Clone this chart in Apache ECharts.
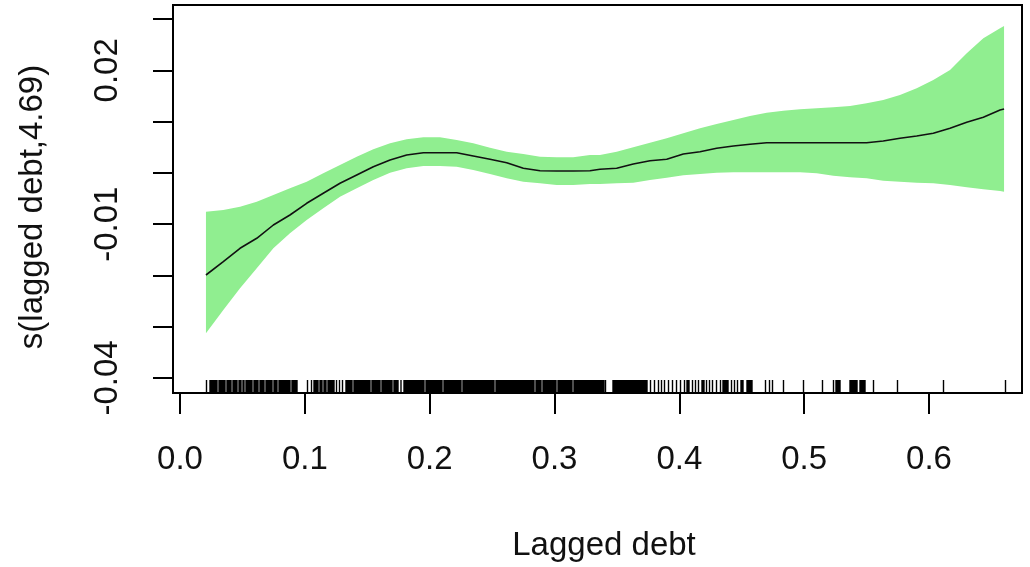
<!DOCTYPE html>
<html>
<head>
<meta charset="utf-8">
<script src="https://cdn.jsdelivr.net/npm/echarts@6/dist/echarts.min.js"></script>
<style>
html,body{margin:0;padding:0;background:#fff;}
#chart{width:1030px;height:567px;}
</style>
</head>
<body>
<div id="chart"></div>
<script>
// ---- data ----
const lineX = [0.0208,0.0347,0.0481,0.0615,0.0748,0.0881,0.1015,0.1148,0.1282,0.1416,0.1549,0.1683,0.1816,0.1950,0.2083,0.2217,0.2350,0.2484,0.2618,0.2751,0.2885,0.3018,0.3151,0.3285,0.3365,0.3499,0.3632,0.3766,0.3900,0.4033,0.4167,0.4300,0.4434,0.4567,0.4701,0.4834,0.4968,0.5102,0.5235,0.5369,0.5502,0.5635,0.5769,0.5903,0.6036,0.6170,0.6304,0.6437,0.6571,0.6603];
const fitValues = [-0.01991,-0.01731,-0.01470,-0.01275,-0.01016,-0.00821,-0.00593,-0.00398,-0.00203,-0.00041,0.00121,0.00252,0.00349,0.00394,0.00394,0.00394,0.00330,0.00265,0.00199,0.00090,0.00043,0.00037,0.00037,0.00043,0.00070,0.00090,0.00174,0.00238,0.00265,0.00369,0.00413,0.00480,0.00525,0.00558,0.00589,0.00589,0.00589,0.00589,0.00589,0.00589,0.00589,0.00622,0.00675,0.00720,0.00772,0.00870,0.00987,0.01084,0.01226,0.01246];
const upperValues = [-0.00757,-0.00723,-0.00659,-0.00562,-0.00431,-0.00300,-0.00172,-0.00008,0.00154,0.00316,0.00460,0.00577,0.00655,0.00694,0.00694,0.00641,0.00577,0.00491,0.00413,0.00369,0.00316,0.00304,0.00304,0.00349,0.00349,0.00413,0.00499,0.00589,0.00675,0.00772,0.00870,0.00953,0.01031,0.01109,0.01174,0.01213,0.01240,0.01260,0.01279,0.01304,0.01357,0.01421,0.01519,0.01650,0.01811,0.02006,0.02332,0.02624,0.02820,0.02864];
const lowerValues = [-0.03128,-0.02673,-0.02250,-0.01860,-0.01470,-0.01178,-0.00918,-0.00690,-0.00464,-0.00300,-0.00138,0.00004,0.00090,0.00135,0.00135,0.00121,0.00057,-0.00021,-0.00105,-0.00172,-0.00203,-0.00236,-0.00236,-0.00216,-0.00216,-0.00203,-0.00191,-0.00138,-0.00094,-0.00047,-0.00021,0.00004,0.00012,0.00012,0.00012,0.00012,0.00012,-0.00008,-0.00055,-0.00086,-0.00105,-0.00152,-0.00172,-0.00191,-0.00203,-0.00236,-0.00281,-0.00320,-0.00353,-0.00367];
// rug: single observations and dense runs [from, to]
const rugTicks = [0.02123,0.10216,0.10537,0.1254,0.1278,0.13021,0.17708,0.34095,0.377,0.3802,0.38341,0.38582,0.38822,0.39143,0.39463,0.39784,0.40104,0.40425,0.41066,0.41306,0.41546,0.42188,0.42428,0.42668,0.42989,0.43309,0.44191,0.44431,0.44671,0.46915,0.47236,0.47476,0.48357,0.4996,0.51482,0.52364,0.55569,0.57492,0.61178,0.66146];
const rugRuns = [[0.02404,0.02965],[0.03125,0.03606],[0.03766,0.04087],[0.04247,0.04567],[0.04728,0.04888],[0.05048,0.05128],[0.05288,0.05769],[0.05929,0.0625],[0.0641,0.06731],[0.06891,0.07372],[0.07532,0.07772],[0.07933,0.08814],[0.08974,0.09375],[0.10737,0.11058],[0.11218,0.11378],[0.11538,0.11699],[0.11859,0.1234],[0.13301,0.13782],[0.13942,0.15224],[0.15385,0.16026],[0.16186,0.16987],[0.17147,0.17468],[0.17949,0.19551],[0.19712,0.20994],[0.21154,0.22516],[0.22676,0.2516],[0.25321,0.28365],[0.28526,0.28926],[0.29087,0.30128],[0.30288,0.3141],[0.31571,0.33974],[0.34696,0.3742],[0.40625,0.40785],[0.41827,0.41987],[0.4351,0.4391],[0.44952,0.45112],[0.45433,0.45833],[0.52564,0.52885],[0.53686,0.54247],[0.54487,0.54888]];
const xTickMin = 0, xTickMax = 0.6, xTickStep = 0.1;
const yTickMin = -0.04, yTickMax = 0.03, yTickStep = 0.01;
const yTickLabels = ['-0.04', '-0.01', '0.02'];
const xTitle = 'Lagged debt';
const yTitle = 's(lagged debt,4.69)';

// ---- chart ----
const FONT = "'Liberation Sans', Arial, sans-serif";
const chart = echarts.init(document.getElementById('chart'), null, {renderer: 'canvas'});

const bandData = lineX.map((x, i) => [x, lowerValues[i], upperValues[i]]);
const fitData = lineX.map((x, i) => [x, fitValues[i]]);
const rugData = rugTicks.map(v => [v, v]).concat(rugRuns);

const option = {
  backgroundColor: '#fff',
  animation: false,
  grid: [
    {left: 173, right: 8, top: 5, bottom: 174, show: true, borderColor: '#000', borderWidth: 2, backgroundColor: 'transparent'},
    {left: 180, width: 749, top: 5, bottom: 174, show: false},
    {left: 173, right: 8, top: 19, height: 359, show: false}
  ],
  xAxis: [
    {gridIndex: 0, type: 'value', min: -0.00561, max: 0.67468, show: false},
    {gridIndex: 1, type: 'value', min: xTickMin, max: xTickMax, interval: xTickStep,
      axisLine: {show: false}, splitLine: {show: false},
      axisTick: {show: true, length: 21, lineStyle: {color: '#000', width: 2}},
      axisLabel: {show: true, margin: 50, fontSize: 33, fontFamily: FONT, color: '#111',
        formatter: v => v.toFixed(1)}},
    {gridIndex: 2, type: 'value', show: false}
  ],
  yAxis: [
    {gridIndex: 0, type: 'value', min: -0.04292, max: 0.03274, show: false},
    {gridIndex: 1, type: 'value', show: false},
    {gridIndex: 2, type: 'value', min: yTickMin, max: yTickMax, interval: yTickStep,
      axisLine: {show: false}, splitLine: {show: false},
      axisTick: {show: true, length: 20, lineStyle: {color: '#000', width: 2}},
      axisLabel: {show: true, rotate: 90, margin: 49, fontSize: 33, fontFamily: FONT, color: '#111',
        formatter: v => { const s = v.toFixed(2); return yTickLabels.indexOf(s) >= 0 ? s : ''; }}}
  ],
  series: [
    {
      type: 'custom', xAxisIndex: 0, yAxisIndex: 0, data: bandData, silent: true,
      renderItem: function (params, api) {
        if (params.dataIndex !== 0) return null;
        const pts = [];
        for (let i = 0; i < bandData.length; i++) pts.push(api.coord([bandData[i][0], bandData[i][2]]));
        for (let i = bandData.length - 1; i >= 0; i--) pts.push(api.coord([bandData[i][0], bandData[i][1]]));
        return {type: 'polygon', shape: {points: pts}, style: {fill: '#90EE90', stroke: null}};
      }
    },
    {
      type: 'line', xAxisIndex: 0, yAxisIndex: 0, data: fitData, showSymbol: false, symbol: 'none',
      lineStyle: {color: '#111', width: 1.6}, silent: true, z: 3
    },
    {
      type: 'custom', xAxisIndex: 0, yAxisIndex: 0, data: rugData, silent: true, z: 4,
      renderItem: function (params, api) {
        const a = api.coord([api.value(0), 0])[0];
        const b = api.coord([api.value(1), 0])[0];
        const bottom = params.coordSys.y + params.coordSys.height;
        const x0 = Math.min(a, b) - 0.7;
        const w = Math.abs(b - a) + 1.4;
        return {type: 'rect', shape: {x: x0, y: bottom - 13, width: w, height: 13}, style: {fill: '#000'}};
      }
    }
  ],
  graphic: [
    {type: 'text', x: 604, y: 546, style: {text: xTitle, font: "33px 'Liberation Sans', Arial, sans-serif", fill: '#111', align: 'center', verticalAlign: 'middle'}},
    {type: 'text', x: 33, y: 207, rotation: Math.PI / 2, style: {text: yTitle, font: "33px 'Liberation Sans', Arial, sans-serif", fill: '#111', align: 'center', verticalAlign: 'middle'}}
  ]
};
chart.setOption(option);
</script>
</body>
</html>
